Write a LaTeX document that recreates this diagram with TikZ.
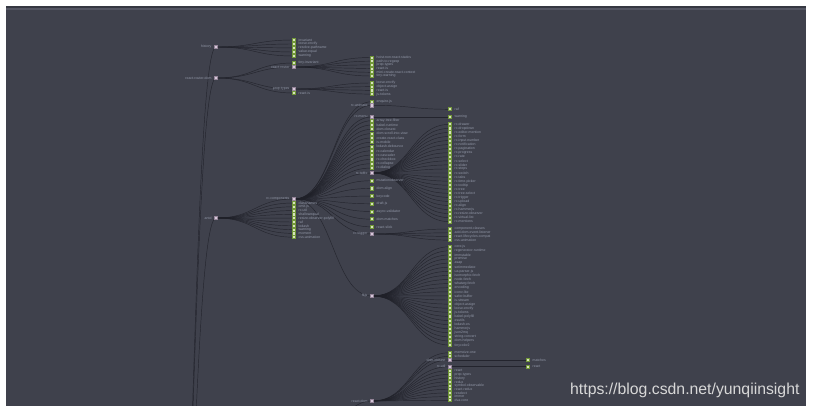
\documentclass[tikz,border=0pt]{standalone}
\usepackage{fontspec}
\setmainfont{Liberation Sans}
\usetikzlibrary{calc}
\pgfdeclarelayer{panel}
\pgfdeclarelayer{links}
\pgfsetlayers{panel,links,main}
\definecolor{panelbg}{HTML}{3F414C}
\definecolor{hdrdark}{HTML}{363842}
\definecolor{hdrlight}{HTML}{545663}
\definecolor{linkc}{HTML}{1F2028}
\definecolor{labc}{HTML}{9298A8}
\definecolor{leaffill}{HTML}{D6E3BC}
\definecolor{leafdraw}{HTML}{729838}
\definecolor{innerfill}{HTML}{D6C8DA}
\definecolor{innerdraw}{HTML}{948498}
\definecolor{markc}{HTML}{D8D8D8}
\newcommand\lnk[2]{\draw[link] let \p1=(#1.center),\p2=(#2.center),\n1={(\x1+\x2)/2} in (\p1) .. controls (\n1,\y1) and (\n1,\y2) .. (\p2);}
\begin{document}
\begin{tikzpicture}[x=1pt,y=-1pt,
  inner/.style={rectangle,fill=innerfill,draw=innerdraw,line width=0.4pt,minimum size=3.3pt,inner sep=0pt},
  leaf/.style={rectangle,fill=leaffill,draw=leafdraw,line width=0.8pt,minimum size=3.1pt,inner sep=0pt},
  lab/.style={font=\fontsize{3.5}{4}\selectfont,text=labc,inner sep=0pt},
  every label/.style={lab},
  label distance=2.5pt,
  link/.style={draw=linkc,line width=0.45pt,opacity=0.85},
  wmark/.style={font=\fontsize{15.8}{18}\selectfont,text=markc,inner sep=0pt,anchor=base west}]
\useasboundingbox (0,0) rectangle (813,409);
\begin{pgfonlayer}{panel}
\fill[white] (0,0) rectangle (813,409);
\fill[panelbg] (6,6) rectangle (806,405.5);
\fill[hdrdark] (6,6) rectangle (806,8);
\fill[hdrlight] (6,8) rectangle (806,10);
\end{pgfonlayer}

\coordinate (root) at (168,800);
\coordinate (p2) at (294,470);

% first branch
\node[inner,label={left:history}] (r1) at (216,47) {};
\foreach \nm [count=\i] in {invariant,loose-envify,resolve-pathname,value-equal,warning}
  \node[leaf,label={right:\nm}] (r1-\i) at (294,{36+4*\i}) {};

% second branch
\node[inner,label={left:react-router-dom}] (r2) at (216,78) {};
\node[leaf,label={right:tiny-invariant}] (r2a) at (294,63) {};
\node[inner,label={left:react-router}] (c1) at (294,67) {};
\node[inner,label={left:prop-types}] (c2) at (294,89) {};
\node[leaf,label={right:react-is}] (r2b) at (294,93) {};
\foreach \nm [count=\i] in {hoist-non-react-statics,path-to-regexp,prop-types,react-is,mini-create-react-context,tiny-warning}
  \node[leaf,label={right:\nm}] (c1-\i) at (372,{53.8+3.7*\i}) {};
\foreach \nm [count=\i] in {loose-envify,object-assign,react-is,js-tokens}
  \node[leaf,label={right:\nm}] (c2-\i) at (372,{79.3+3.7*\i}) {};

% third branch
\node[inner,label={left:antd}] (A) at (216,218) {};
\node[inner,label={left:rc-components}] (B) at (294,199) {};
\foreach \nm [count=\i] in {classnames,omit.js,rc-util,shallowequal,resize-observer-polyfill,raf,lodash,warning,moment,css-animation}
  \node[leaf,label={right:\nm}] (A-\i) at (294,{199.2+3.8*\i}) {};

\node[leaf,label={right:enquire.js}] (b0) at (372,101.7) {};
\node[inner,label={left:rc-animate}] (E) at (372,105.3) {};
\node[leaf,label={right:raf}] (e1) at (450,109.3) {};
\node[inner,label={left:rc-menu}] (F) at (372,117) {};
\node[leaf,label={right:warning}] (f1) at (450,117) {};
\foreach \nm [count=\i] in {array-tree-filter,babel-runtime,dom-closest,dom-scroll-into-view,create-react-class,is-mobile,lodash.debounce,rc-calendar,rc-cascader,rc-checkbox,rc-collapse,rc-dialog}
  \node[leaf,label={right:\nm}] (bl-\i) at (372,{116.4+4.3*\i}) {};
\node[inner,label={left:rc-table}] (G) at (372,173) {};
\foreach \nm [count=\i] in {rc-drawer,rc-dropdown,rc-editor-mention,rc-form,rc-input-number,rc-notification,rc-pagination,rc-progress,rc-rate,rc-select,rc-slider,rc-steps,rc-switch,rc-tabs,rc-time-picker,rc-tooltip,rc-tree,rc-tree-select,rc-trigger,rc-upload,rc-align,rc-hammerjs,rc-resize-observer,rc-virtual-list,rc-mentions}
  \node[leaf,label={right:\nm}] (G-\i) at (450,{120.24+4.06*\i}) {};
\foreach \nm [count=\i] in {mutationobserver,dom-align,keycode,draft-js,async-validator,dom-matches,react-slick}
  \node[leaf,label={right:\nm}] (bm-\i) at (372,{173+7.7*\i}) {};
\node[inner,label={left:rc-trigger}] (H) at (372,234) {};
\foreach \nm [count=\i] in {component-classes,add-dom-event-listener,react-lifecycles-compat,css-animation}
  \node[leaf,label={right:\nm}] (H-\i) at (450,{225.3+3.7*\i}) {};
\node[inner,label={left:fbjs}] (D) at (372,296) {};
\foreach \nm [count=\i] in {core-js,regenerator-runtime,immutable,promise,asap,setimmediate,ua-parser-js,isomorphic-fetch,node-fetch,whatwg-fetch,encoding,iconv-lite,safer-buffer,is-stream,object-assign,loose-envify,js-tokens,babel-polyfill,esutils,lodash-es,hammerjs,json2mq,string-convert,dom-helpers,tinycolor2}
  \node[leaf,label={right:\nm}] (D-\i) at (450,{242.6+4.1*\i}) {};

% bottom branch
\node[inner,label={left:react-dom}] (K) at (372,401) {};
\node[leaf,label={right:memoize-one}] (k1) at (450,352.7) {};
\node[leaf,label={right:scheduler}] (k2) at (450,356.3) {};
\node[inner,label={left:dom-closest}] (I) at (450,360) {};
\node[leaf,label={right:matches}] (i1) at (528,360) {};
\node[inner,label={left:rc-util}] (J) at (450,366.7) {};
\node[leaf,label={right:react}] (j1) at (528,366.7) {};
\foreach \nm [count=\i] in {react,prop-types,history,redux,symbol-observable,react-redux,reselect,immer,dva-core}
  \node[leaf,label={right:\nm}] (K-\i) at (450,{367+3.7*\i}) {};

\node[wmark] (wm) at (570,394) {https://blog.csdn.net/yunqiinsight};

\begin{pgfonlayer}{links}
\begin{scope}
\clip (6,10) rectangle (806,405.5);
\lnk{root}{r1}\lnk{root}{r2}\lnk{root}{A}
\foreach \i in {1,...,5} {\lnk{r1}{r1-\i}}
\lnk{r2}{r2a}\lnk{r2}{c1}\lnk{r2}{c2}\lnk{r2}{r2b}
\foreach \i in {1,...,6} {\lnk{c1}{c1-\i}}
\foreach \i in {1,...,4} {\lnk{c2}{c2-\i}}
\lnk{A}{B}
\foreach \i in {1,...,10} {\lnk{A}{A-\i}}
\lnk{B}{b0}\lnk{B}{E}\lnk{B}{F}\lnk{B}{G}\lnk{B}{H}\lnk{B}{D}
\lnk{E}{e1}\lnk{F}{f1}
\foreach \i in {1,...,12} {\lnk{B}{bl-\i}}
\foreach \i in {1,...,7} {\lnk{B}{bm-\i}}
\foreach \i in {1,...,25} {\lnk{G}{G-\i}}
\foreach \i in {1,...,4} {\lnk{H}{H-\i}}
\foreach \i in {1,...,25} {\lnk{D}{D-\i}}
\lnk{p2}{K}
\lnk{K}{k1}\lnk{K}{k2}\lnk{K}{I}\lnk{K}{J}
\lnk{I}{i1}\lnk{J}{j1}
\foreach \i in {1,...,9} {\lnk{K}{K-\i}}
\end{scope}
\end{pgfonlayer}
\end{tikzpicture}
\end{document}
